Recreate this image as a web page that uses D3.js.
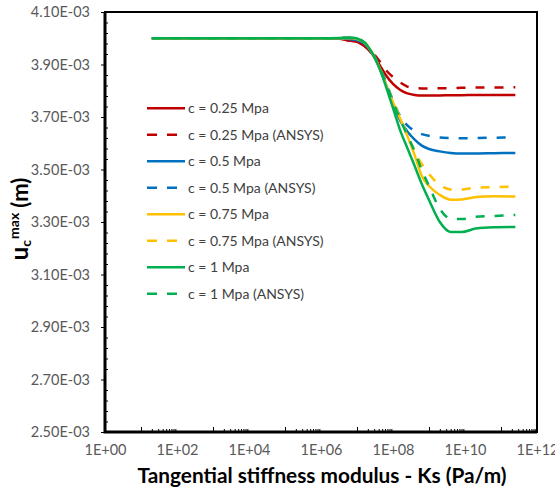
<!DOCTYPE html>
<html>
<head>
<meta charset="utf-8">
<script src="https://cdn.jsdelivr.net/npm/d3@7"></script>
<style>
  body { margin: 0; background: #fff; }
  text { font-family: Lato, "Open Sans", sans-serif; }
</style>
</head>
<body>
<script>
// stiffness values (Pa/m) shared by every series
var ks = [2e1, 1e3, 1e5, 1e6, 3.2e6, 6.3e6, 1e7, 1.6e7, 2.5e7, 4e7, 6.3e7, 1e8, 1.6e8, 2.5e8,
    4e8, 6.3e8, 1e9, 2e9, 4e9, 8e9, 2e10, 6.3e10, 2.5e11];

// uc max, in units of 1E-03 m
var c025 = [4.000, 4.000, 4.000, 4.000, 3.998, 3.991, 3.986, 3.970, 3.944, 3.904, 3.860, 3.826, 3.803,
    3.790, 3.784, 3.782, 3.782, 3.782, 3.783, 3.783, 3.784, 3.784, 3.784];
var c025Ansys = [4.000, 4.000, 4.000, 4.000, 3.998, 3.991, 3.986, 3.972, 3.950, 3.917, 3.879, 3.852, 3.831,
    3.816, 3.810, 3.809, 3.809, 3.810, 3.810, 3.811, 3.812, 3.812, 3.813];
var c05 = [4.000, 4.000, 4.000, 4.000, 3.999, 3.997, 3.993, 3.980, 3.948, 3.893, 3.826, 3.750, 3.685,
    3.645, 3.614, 3.591, 3.578, 3.569, 3.563, 3.561, 3.561, 3.562, 3.563];
var c05Ansys = [4.000, 4.000, 4.000, 4.000, 3.999, 3.997, 3.993, 3.981, 3.950, 3.900, 3.835, 3.762, 3.702,
    3.668, 3.647, 3.635, 3.628, 3.622, 3.620, 3.619, 3.620, 3.621, 3.622];
var c075 = [4.000, 4.000, 4.000, 4.000, 4.000, 4.001, 3.997, 3.984, 3.950, 3.895, 3.826, 3.755, 3.692,
    3.628, 3.555, 3.475, 3.437, 3.403, 3.385, 3.386, 3.395, 3.398, 3.397];
var c075Ansys = [4.000, 4.000, 4.000, 4.000, 4.000, 4.001, 3.997, 3.984, 3.950, 3.897, 3.830, 3.760, 3.697,
    3.630, 3.570, 3.521, 3.483, 3.441, 3.424, 3.424, 3.431, 3.433, 3.435];
var c1 = [4.000, 4.000, 4.000, 4.000, 4.001, 4.003, 3.999, 3.984, 3.950, 3.893, 3.818, 3.734, 3.647,
    3.582, 3.513, 3.445, 3.384, 3.300, 3.262, 3.262, 3.275, 3.280, 3.281];
var c1Ansys = [4.000, 4.000, 4.000, 4.000, 4.001, 4.002, 3.999, 3.984, 3.950, 3.897, 3.830, 3.757, 3.690,
    3.630, 3.569, 3.498, 3.437, 3.350, 3.313, 3.311, 3.320, 3.323, 3.327];

var seriesNames = ["c = 0.25 Mpa", "c = 0.25 Mpa (ANSYS)", "c = 0.5 Mpa", "c = 0.5 Mpa (ANSYS)",
    "c = 0.75 Mpa", "c = 0.75 Mpa (ANSYS)", "c = 1 Mpa", "c = 1 Mpa (ANSYS)"];
var seriesValues = [c025, c025Ansys, c05, c05Ansys, c075, c075Ansys, c1, c1Ansys];

// axis ticks
var xTicks = [1e0, 1e2, 1e4, 1e6, 1e8, 1e10, 1e12];
var xTickLabels = ["1E+00", "1E+02", "1E+04", "1E+06", "1E+08", "1E+10", "1E+12"];
var yTicks = [2.5, 2.7, 2.9, 3.1, 3.3, 3.5, 3.7, 3.9, 4.1];
var yTickLabels = ["2.50E-03", "2.70E-03", "2.90E-03", "3.10E-03", "3.30E-03", "3.50E-03",
    "3.70E-03", "3.90E-03", "4.10E-03"];

//custom look
var colors = ["#c00000", "#c00000", "#0070c0", "#0070c0", "#ffc000", "#ffc000", "#00b050", "#00b050"];
var lineWidth = 2.5;
var tickColor = "#595959";

var width = 555;
var height = 492;
var plot = {left: 105, right: 537, top: 12, bottom: 432};

var svg = d3.select("body").append("svg")
    .attr("width", width)
    .attr("height", height);

var x = d3.scaleLog().domain([1, 1e12]).range([plot.left, plot.right]);
var y = d3.scaleLinear().domain([2.5, 4.1]).range([plot.bottom, plot.top]);

// y axis with labels and small outside ticks
var yAxis = svg.append("g")
    .attr("transform", "translate(" + plot.left + ",0)")
    .call(d3.axisLeft(y)
        .tickValues(yTicks)
        .tickSize(4)
        .tickPadding(11)
        .tickFormat(function (d, i) { return yTickLabels[i]; }));
yAxis.select(".domain").remove();
yAxis.selectAll("line").attr("stroke", "#000").attr("stroke-width", 1);
yAxis.selectAll("text")
    .attr("fill", tickColor)
    .style("font-size", "14.5px");

// y minor ticks, pointing inside
var yMinor = d3.range(2.54, 4.1, 0.04).filter(function (v) {
    return Math.abs((v - 2.5) / 0.2 - Math.round((v - 2.5) / 0.2)) > 0.01;
});
var yMinorAxis = svg.append("g")
    .attr("transform", "translate(" + plot.left + ",0)")
    .call(d3.axisLeft(y).tickValues(yMinor).tickSize(-3).tickFormat(""));
yMinorAxis.select(".domain").remove();
yMinorAxis.selectAll("line").attr("stroke", "#000").attr("stroke-width", 1);

// x axis labels only
var xAxis = svg.append("g")
    .attr("transform", "translate(0," + plot.bottom + ")")
    .call(d3.axisBottom(x)
        .tickValues(xTicks)
        .tickSize(0)
        .tickPadding(13)
        .tickFormat(function (d, i) { return xTickLabels[i]; }));
xAxis.select(".domain").remove();
xAxis.selectAll("text")
    .attr("fill", tickColor)
    .style("font-size", "14.5px");

// x minor ticks inside the odd decades
var xMinor = [];
[1, 3, 5, 7, 9, 11].forEach(function (k) {
    for (var m = 1; m <= 9; m++) xMinor.push(m * Math.pow(10, k));
});
var xMinorAxis = svg.append("g")
    .attr("transform", "translate(0," + plot.bottom + ")")
    .call(d3.axisBottom(x).tickValues(xMinor).tickSize(-3).tickFormat(""));
xMinorAxis.select(".domain").remove();
xMinorAxis.selectAll("line")
    .attr("stroke", "#000")
    .attr("stroke-width", 1)
    .attr("y2", function (d) { return Math.abs(Math.log10(d) - Math.round(Math.log10(d))) < 1e-9 ? -5 : -3; });

// series lines
var line = d3.line()
    .x(function (d) { return x(d[0]); })
    .y(function (d) { return y(d[1]); })
    .curve(d3.curveMonotoneX);

svg.append("g")
    .attr("class", "lines")
    .selectAll("path")
    .data(seriesValues)
    .enter().append("path")
    .attr("d", function (vals) {
        return line(vals.map(function (v, i) { return [ks[i], v]; }));
    })
    .attr("fill", "none")
    .attr("stroke", function (d, i) { return colors[i]; })
    .attr("stroke-width", lineWidth)
    .attr("stroke-dasharray", function (d, i) { return i % 2 ? "9,10" : null; });

// plot area border
svg.append("rect")
    .attr("x", plot.left)
    .attr("y", plot.top)
    .attr("width", plot.right - plot.left)
    .attr("height", plot.bottom - plot.top)
    .attr("fill", "none")
    .attr("stroke", "#000")
    .attr("stroke-width", 2);
svg.append("path")
    .attr("d", "M" + plot.left + "," + plot.top + "V" + plot.bottom + "H" + plot.right)
    .attr("fill", "none")
    .attr("stroke", "#000")
    .attr("stroke-width", 3);

// legend
var legend = svg.append("g")
    .attr("class", "legend")
    .selectAll("g")
    .data(seriesNames)
    .enter().append("g")
    .attr("transform", function (d, i) { return "translate(147," + (108.3 + i * 26.5) + ")"; });

legend.append("line")
    .attr("x1", 0)
    .attr("x2", 38)
    .attr("stroke", function (d, i) { return colors[i]; })
    .attr("stroke-width", lineWidth)
    .attr("stroke-dasharray", function (d, i) { return i % 2 ? "10,10" : null; });

legend.append("text")
    .attr("x", 41)
    .attr("dy", "0.35em")
    .text(function (d) { return d; })
    .attr("fill", "#404040")
    .style("font-size", "14px");

// axis titles
svg.append("text")
    .attr("x", 322)
    .attr("y", 483)
    .style("text-anchor", "middle")
    .style("font-weight", "bold")
    .style("font-size", "20.8px")
    .attr("fill", "#000")
    .text("Tangential stiffness modulus - Ks (Pa/m)");

var yTitle = svg.append("text")
    .attr("transform", "translate(28,219) rotate(-90)")
    .style("text-anchor", "middle")
    .style("font-weight", "bold")
    .attr("fill", "#000");
yTitle.append("tspan").style("font-size", "24px").text("u");
yTitle.append("tspan").style("font-size", "14px").attr("dy", 3).text("c");
yTitle.append("tspan").style("font-size", "14px").attr("dy", -12).attr("dx", 1).text("max");
yTitle.append("tspan").style("font-size", "22px").attr("dy", 9).attr("dx", 5).text("(m)");
</script>
</body>
</html>
